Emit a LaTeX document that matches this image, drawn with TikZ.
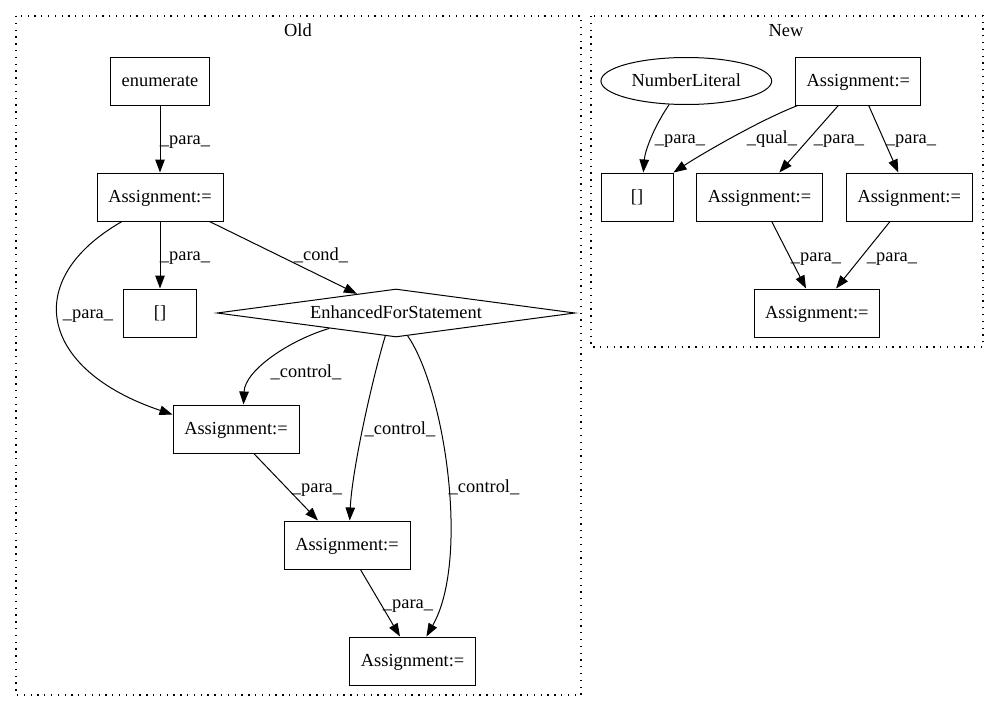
\documentclass[tikz,border=0pt]{standalone}
\usepackage{fontspec}
\setmainfont{Liberation Serif}
\usetikzlibrary{shapes.geometric,arrows.meta,calc}
\begin{document}
\begin{tikzpicture}[x=1pt,y=-1pt,
  every node/.style={font=\fontsize{18.4}{22}\selectfont, text height=11pt, text depth=0pt},
  box/.style={draw, line width=1pt, rectangle, minimum height=48pt, inner sep=0pt},
  lbl/.style={inner sep=0pt},
  cluster/.style={draw, line width=1.2pt, dash pattern=on 1.3pt off 5.5pt},
  edge/.style={line width=1pt, -{Triangle[length=13pt,width=9.5pt]}}]
\useasboundingbox (0,0) rectangle (999,712);
% clusters
\draw[cluster] (16,16) rectangle (581,695);
\draw[cluster] (591,16) rectangle (983,347);
\node[lbl] (oldlbl) at (298,31) {Old};
\node[lbl] (newlbl) at (786,31) {New};
% Old nodes
\node[box, minimum width=99pt] (enum) at (160,81) {enumerate};
\node[box, minimum width=126pt] (as1) at (160,197) {Assignment:=};
\node[box, minimum width=73pt] (br1) at (160,313) {[]};
\node[draw, line width=1pt, diamond, shape aspect=7.4, minimum width=358pt, minimum height=48pt, inner sep=1pt] (efs) at (396,313) {EnhancedForStatement};
\node[box, minimum width=126pt] (as2) at (236,429) {Assignment:=};
\node[box, minimum width=126pt] (as3) at (347,545) {Assignment:=};
\node[box, minimum width=126pt] (as4) at (412.6,661) {Assignment:=};
% Old edges
\draw[edge] (enum.south) -- (as1.north);
\draw[edge] (as1.south) -- (br1.north);
\draw[edge] ([xshift=-14pt]as1.south east) -- (efs);
\draw[edge] ([xshift=-38pt]as1.south) .. controls (20,280) and (40,370) .. ([yshift=-10pt]as2.north west);
\draw[edge] (efs.193) .. controls (290,340) and (245,370) .. ([xshift=7.5pt]as2.north);
\draw[edge] (efs.245) .. controls (372,380) and (352,470) .. ([xshift=2.7pt]as3.north);
\draw[edge] (efs.-63) .. controls (445,390) and (470,560) .. ([xshift=13.8pt]as4.north);
\draw[edge] ([xshift=17.8pt]as2.south) -- ([xshift=-29pt]as3.north);
\draw[edge] ([xshift=13.4pt]as3.south) -- ([xshift=-12.6pt]as4.north);
% Old labels
\node[lbl] (l1) at (185,139) {\_para\_};
\node[lbl] (l2) at (185,255) {\_para\_};
\node[lbl] (l3) at (321,255) {\_cond\_};
\node[lbl] (l4) at (88,313) {\_para\_};
\node[lbl] (l5) at (306,372) {\_control\_};
\node[lbl] (l6) at (400,429) {\_control\_};
\node[lbl] (l7) at (484,487) {\_control\_};
\node[lbl] (l8) at (317,487) {\_para\_};
\node[lbl] (l9) at (408,603) {\_para\_};
% New nodes
\node[draw, line width=1pt, ellipse, minimum width=170.7pt, minimum height=47pt, inner sep=0pt] (nl) at (686.3,81) {NumberLiteral};
\node[box, minimum width=125.3pt] (at) at (858.3,81) {Assignment:=};
\node[box, minimum width=72pt] (br2) at (637,197) {[]};
\node[box, minimum width=125.6pt] (aa) at (759.5,197) {Assignment:=};
\node[box, minimum width=125.6pt] (ab) at (909.2,197) {Assignment:=};
\node[box, minimum width=125.6pt] (ac) at (816.8,313) {Assignment:=};
% New edges
\draw[edge] (nl.234) .. controls (655,125) and (645,150) .. ([xshift=6.3pt]br2.north);
\draw[edge] ([xshift=2.6pt]at.south west) .. controls (760,120) and (700,155) .. (br2.north east);
\draw[edge] ([xshift=-20pt]at.south) -- ([xshift=19.8pt]aa.north);
\draw[edge] ([xshift=10.4pt]at.south) -- ([xshift=-10.9pt]ab.north);
\draw[edge] ([xshift=12.2pt]aa.south) -- ([xshift=-10.8pt]ac.north);
\draw[edge] ([xshift=-19.2pt]ab.south) -- ([xshift=19.2pt]ac.north);
% New labels
\node[lbl] (n1) at (680,138) {\_para\_};
\node[lbl] (n2) at (772,138) {\_qual\_};
\node[lbl] (n3) at (839,138) {\_para\_};
\node[lbl] (n4) at (911,138) {\_para\_};
\node[lbl] (n5) at (816,256) {\_para\_};
\node[lbl] (n6) at (892,256) {\_para\_};
\end{tikzpicture}
\end{document}
